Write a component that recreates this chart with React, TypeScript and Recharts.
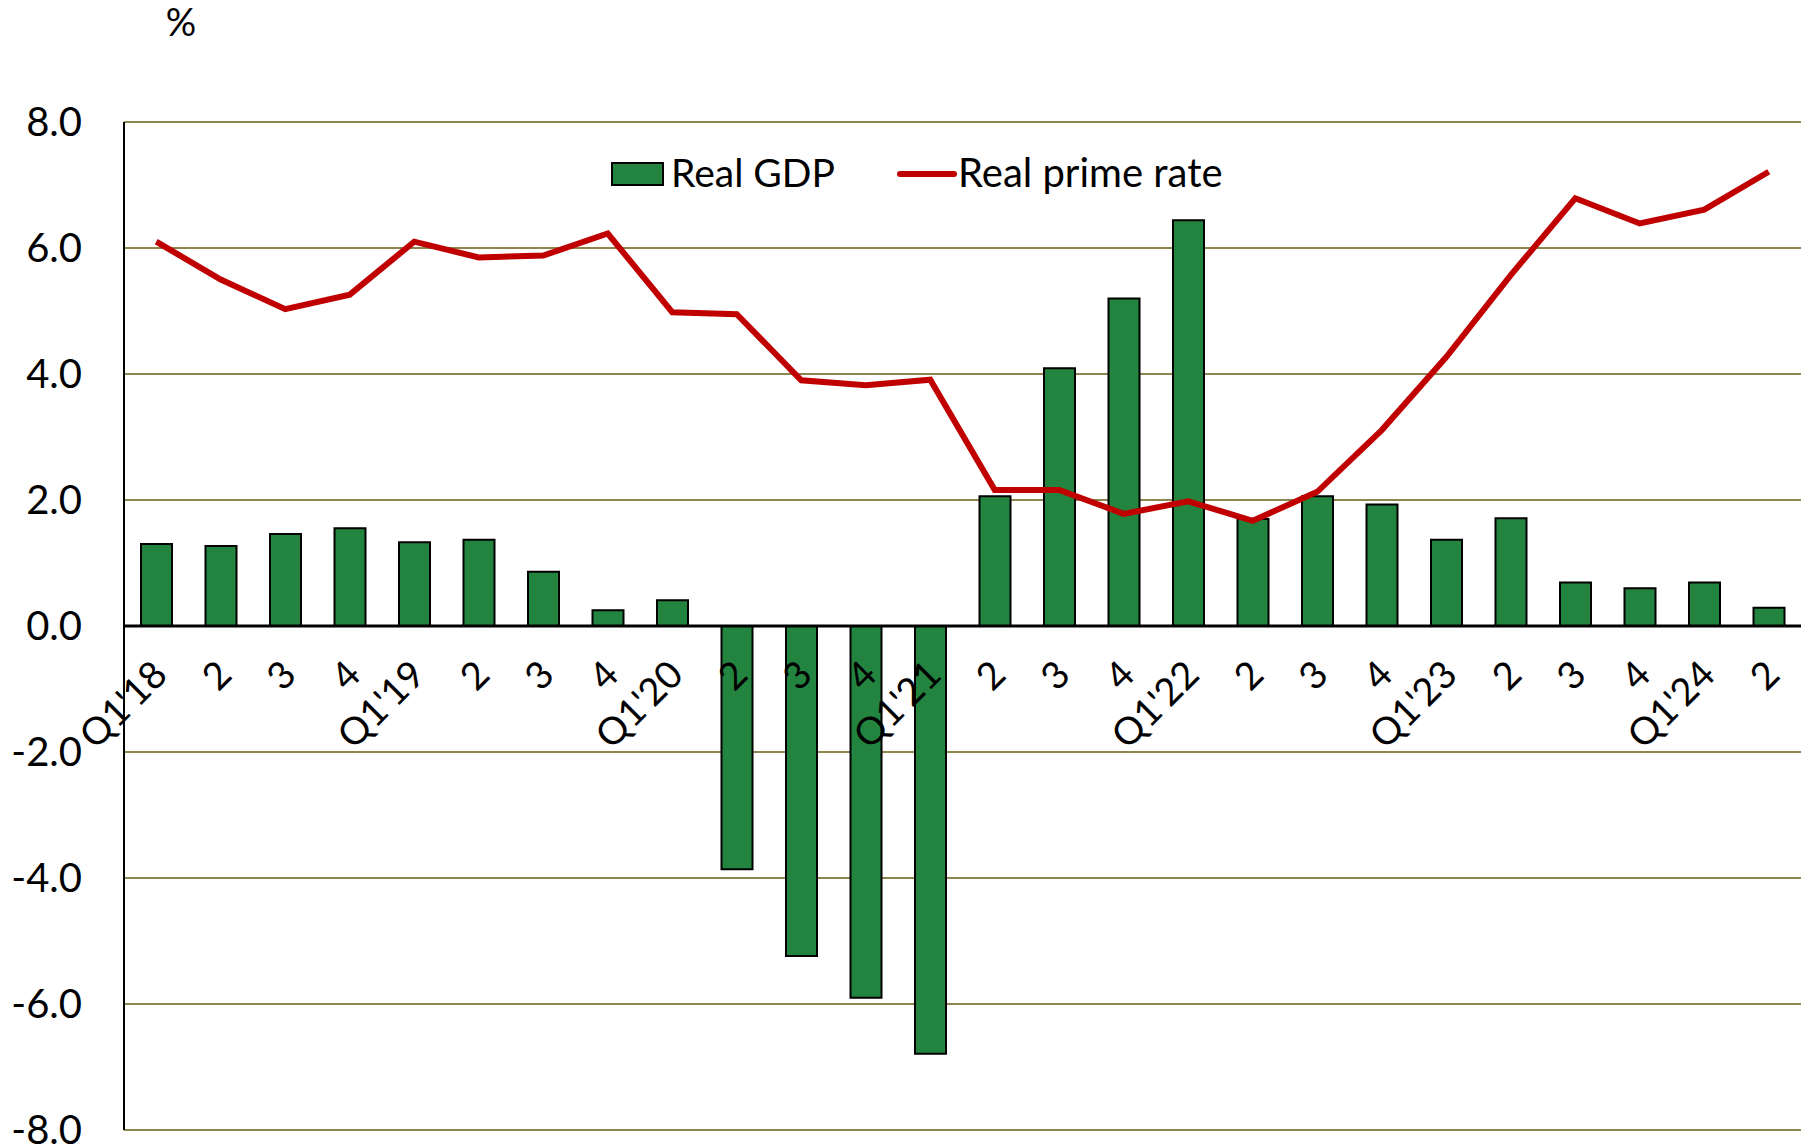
import React from 'react';
import { Bar, CartesianGrid, ComposedChart, Line, ReferenceLine, XAxis, YAxis } from 'recharts';

const quarters = [
  "Q1'18", '2', '3', '4',
  "Q1'19", '2', '3', '4',
  "Q1'20", '2', '3', '4',
  "Q1'21", '2', '3', '4',
  "Q1'22", '2', '3', '4',
  "Q1'23", '2', '3', '4',
  "Q1'24", '2',
];

const realGdp = [
  1.30, 1.27, 1.46, 1.55,
  1.33, 1.37, 0.86, 0.25,
  0.41, -3.86, -5.24, -5.90,
  -6.79, 2.06, 4.09, 5.20,
  6.44, 1.70, 2.06, 1.93,
  1.37, 1.71, 0.69, 0.60,
  0.69, 0.29,
];

const realPrimeRate = [
  6.10, 5.50, 5.03, 5.26,
  6.10, 5.85, 5.88, 6.23,
  4.98, 4.95, 3.90, 3.82,
  3.91, 2.16, 2.16, 1.78,
  1.98, 1.67, 2.13, 3.11,
  4.27, 5.57, 6.79, 6.39,
  6.61, 7.21,
];

const yTicks = [-8, -6, -4, -2, 0, 2, 4, 6, 8];

const data = quarters.map((q, i) => ({ quarter: q, gdp: realGdp[i], prime: realPrimeRate[i] }));

const WIDTH = 1814;
const HEIGHT = 1148;
const MARGIN = { top: 122, right: 13, bottom: 0, left: 0 };
const X_AXIS_HEIGHT = 18;
// y domain is symmetric, so the zero line sits half way down the plot
const ZERO_Y = (MARGIN.top + (HEIGHT - MARGIN.bottom - X_AXIS_HEIGHT)) / 2;

const FONT = 'Lato, "Open Sans", sans-serif';
const GREEN = '#23843F';
const RED = '#C00000';
const GRID = '#8C8550';

function QuarterTick(props: any) {
  const { x, payload } = props;
  const ax = x + 13;
  const ay = ZERO_Y + 51;
  return (
    <text
      x={ax}
      y={ay}
      transform={`rotate(-45 ${ax} ${ay})`}
      textAnchor="end"
      fontSize={38}
      fontFamily={FONT}
      fill="#000"
    >
      {payload.value}
    </text>
  );
}

export default function App() {
  return (
    <div style={{ position: 'absolute', left: 0, top: 0, width: WIDTH, height: HEIGHT, background: '#fff' }}>
      <ComposedChart width={WIDTH} height={HEIGHT} data={data} margin={MARGIN}>
        <CartesianGrid vertical={false} stroke={GRID} strokeWidth={2} />
        <YAxis
          type="number"
          domain={[-8, 8]}
          ticks={yTicks}
          interval={0}
          width={124}
          tickFormatter={(v: number) => v.toFixed(1)}
          tick={{ fill: '#000', fontSize: 40, fontFamily: FONT }}
          tickLine={false}
          tickMargin={36}
          axisLine={{ stroke: '#000', strokeWidth: 2 }}
        />
        <Bar dataKey="gdp" name="Real GDP" fill={GREEN} stroke="#000" strokeWidth={2} barSize={31} isAnimationActive={false} />
        <ReferenceLine y={0} stroke="#000" strokeWidth={3} />
        <Line
          type="linear"
          dataKey="prime"
          name="Real prime rate"
          stroke={RED}
          strokeWidth={6}
          dot={false}
          activeDot={false}
          isAnimationActive={false}
        />
        <XAxis
          dataKey="quarter"
          interval={0}
          height={X_AXIS_HEIGHT}
          axisLine={false}
          tickLine={false}
          tick={<QuarterTick />}
        />
      </ComposedChart>
      <svg
        width={WIDTH}
        height={HEIGHT}
        style={{ position: 'absolute', left: 0, top: 0, pointerEvents: 'none' }}
        fontFamily={FONT}
      >
        <text x={181} y={36} textAnchor="middle" fontSize={38} fill="#000">%</text>
        <rect x={612} y={163} width={51} height={22} fill={GREEN} stroke="#000" strokeWidth={2} />
        <text x={671} y={187} fontSize={39} fill="#000">Real GDP</text>
        <line x1={900} x2={954} y1={174} y2={174} stroke={RED} strokeWidth={6} strokeLinecap="round" />
        <text x={958} y={187} fontSize={40} fill="#000">Real prime rate</text>
      </svg>
    </div>
  );
}
